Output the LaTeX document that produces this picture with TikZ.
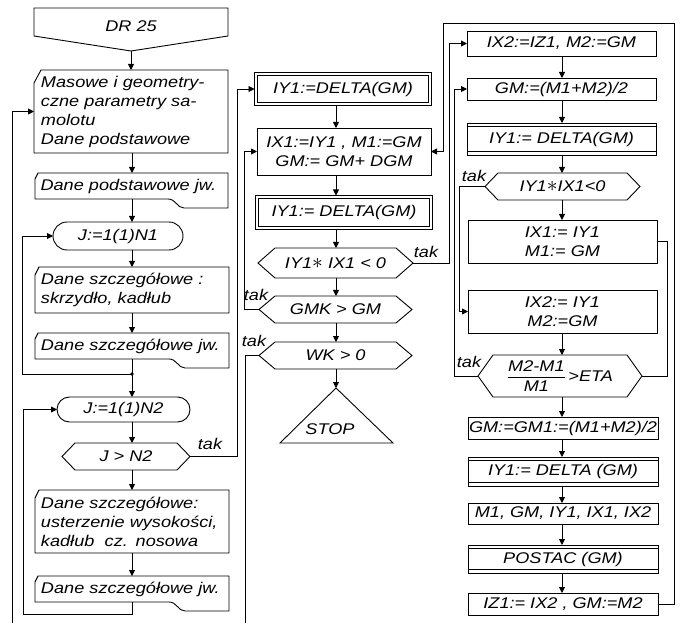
\documentclass[tikz,border=0pt]{standalone}
\usepackage{fontspec}
\usepackage{amsmath}
\setmainfont{Liberation Sans}
\newfontfamily\flowfam{Liberation Sans}[FakeStretch=1.17, ItalicFeatures={FakeStretch=1.17}]
\usetikzlibrary{arrows.meta,calc}
\newcommand\flowfont{\flowfam\itshape\fontsize{15.5}{19}\selectfont}
\newcommand\mulast{\scalebox{1.5}{$\ast$}}
\tikzset{
  lw/.style={line width=0.9pt},
  arr/.style={lw, -{Triangle[width=6pt,length=6pt]}},
  reg/.style={inner sep=0pt, outer sep=0pt, anchor=north west, font=\flowfont, align=center},
  box/.style={reg, draw, lw},
  dbox/.style={reg, draw, lw, double, double distance=2.2pt},
  lbl/.style={font=\flowfont, inner sep=0pt},
}
\newcommand\hexout[2]{\draw[lw] (#1.west) -- ($(#1.north west)+(#2,0)$) -- ($(#1.north east)+(-#2,0)$) -- (#1.east) -- ($(#1.south east)+(-#2,0)$) -- ($(#1.south west)+(#2,0)$) -- cycle;}
\newcommand\cutbox[3]{\draw[lw] ($(#1.north west)+(0,#3)$) -- ($(#1.north west)+(#2,0)$) -- (#1.north east) -- (#1.south east) -- (#1.south west) -- cycle;}
\newcommand\tapebox[1]{\draw[lw] ($(#1.north west)+(0,6)$) -- ($(#1.north west)+(3,0)$) -- (#1.north east) -- ($(#1.south east)+(0,9)$) -- ($(#1.south east)+(-44,9)$) .. controls ($(#1.south east)+(-51,9)$) and ($(#1.south east)+(-52,0)$) .. ($(#1.south east)+(-60,0)$) -- (#1.south west) -- cycle;}
\newcommand\tbd[1]{\draw[lw] ($(#1.north west)+(0,3.5)$) -- ($(#1.north east)+(0,3.5)$); \draw[lw] ($(#1.south west)+(0,-3.5)$) -- ($(#1.south east)+(0,-3.5)$);}
\begin{document}
\begin{tikzpicture}[x=1pt,y=-1pt]
\fill[white] (0,0) rectangle (681,623);
\useasboundingbox (0,0) rectangle (681,623);
% spines
\coordinate (L) at (132,0);
\coordinate (M) at (336,0);
\coordinate (R) at (562,0);
% ---------------- left column
\node[reg, minimum width=194pt, minimum height=36pt] (dr) at (34,8) {DR 25};
\draw[lw] (dr.north west) -- (dr.north east) -- ($(dr.south east)+(0,-8)$) -- ($(dr.south)+(0,7)$) -- ($(dr.south west)+(0,-8)$) -- cycle;
\coordinate (drtip) at ($(dr.south)+(0,7)$);
\node[reg, minimum width=194pt, minimum height=83pt, text width=180pt, align=left] (mas) at (34,70)
  {Masowe i geometry-\\czne parametry sa-\\molotu\\Dane podstawowe};
\cutbox{mas}{7}{13}
\node[reg, minimum width=193pt, minimum height=26pt, text width=182pt, align=left] (dpj) at (35,173) {Dane podstawowe jw.};
\tapebox{dpj}
\node[box, rounded corners=14pt, minimum width=130pt, minimum height=28pt] (jn1) at (53,222) {J:=1(1)N1};
\node[reg, minimum width=194pt, minimum height=46pt, text width=182pt, align=left] (dsk) at (35,267)
  {Dane szczegółowe :\\skrzydło, kadłub};
\cutbox{dsk}{4}{8}
\node[reg, minimum width=194pt, minimum height=26pt, text width=182pt, align=left] (dsj1) at (35,333) {Dane szczegółowe jw.};
\tapebox{dsj1}
\coordinate (J1) at (132,374);
\node[box, rounded corners=12.5pt, minimum width=133pt, minimum height=25pt] (jn2) at (57,397) {J:=1(1)N2};
\node[reg, minimum width=128pt, minimum height=27pt] (jgt) at (62,443) {J > N2};
\hexout{jgt}{13}
\node[reg, minimum width=194pt, minimum height=63pt, text width=182pt, align=left] (dsu) at (35,490)
  {Dane szczegółowe:\\usterzenie wysokości,\\kadłub~~cz. nosowa};
\cutbox{dsu}{4}{8}
\node[reg, minimum width=194pt, minimum height=26pt, text width=182pt, align=left] (dsj2) at (35,576) {Dane szczegółowe jw.};
\tapebox{dsj2}
% ---------------- middle column
\node[dbox, minimum width=174pt, minimum height=30pt] (dy1) at (256,74) {IY1:=DELTA(GM)};
\node[box, minimum width=174pt, minimum height=47pt] (ix1) at (257,128) {IX1:=IY1 , M1:=GM\\GM:= GM+ DGM};
\node[dbox, minimum width=174pt, minimum height=31pt] (dy2) at (257,197) {IY1:= DELTA(GM)};
\node[reg, minimum width=155pt, minimum height=30pt] (h1) at (258,248) {IY1\mulast\ IX1 < 0};
\hexout{h1}{17}
\node[reg, minimum width=153pt, minimum height=27pt] (h2) at (259,296) {GMK > GM};
\hexout{h2}{16}
\node[reg, minimum width=153pt, minimum height=27pt] (h3) at (259,342) {WK > 0};
\hexout{h3}{16}
\coordinate (stA) at (336,388);
\node[lbl] (stop) at (330,429) {STOP};
\draw[lw] (stA) -- ($(stA)+(57,55)$) -- ($(stA)+(-56,55)$) -- cycle;
% ---------------- right column
\node[box, minimum width=189pt, minimum height=25pt] (r1) at (467,31) {IX2:=IZ1, M2:=GM};
\node[box, minimum width=189pt, minimum height=22pt] (r2) at (467,78) {GM:=(M1+M2)/2};
\node[box, minimum width=189pt, minimum height=32pt] (r3) at (467,123) {IY1:= DELTA(GM)};
\tbd{r3}
\node[reg, minimum width=155pt, minimum height=27pt] (rh1) at (485,173) {IY1\mulast IX1<0};
\hexout{rh1}{13}
\node[box, minimum width=189pt, minimum height=43pt] (r4) at (468,220) {IX1:= IY1\\M1:= GM};
\node[box, minimum width=189pt, minimum height=43pt] (r5) at (468,290) {IX2:= IY1\\M2:=GM};
\node[reg, minimum width=164pt, minimum height=42pt] (rh2) at (478,355) {$\dfrac{\text{M2-M1}}{\text{M1}}$\,>ETA};
\hexout{rh2}{15}
\node[box, minimum width=190pt, minimum height=22pt] (r6) at (468,417) {GM:=GM1:=(M1+M2)/2};
\node[box, minimum width=190pt, minimum height=29pt] (r7) at (468,457) {IY1:= DELTA (GM)};
\tbd{r7}
\node[box, minimum width=190pt, minimum height=21pt] (r8) at (468,503) {M1, GM, IY1, IX1, IX2};
\node[box, minimum width=190pt, minimum height=28pt] (r9) at (468,545) {POSTAC (GM)};
\tbd{r9}
\node[box, minimum width=190pt, minimum height=22pt] (r10) at (468,593) {IZ1:= IX2 , GM:=M2};
% ---------------- tak labels
\node[lbl] (t1) at (210,444) {tak};
\node[lbl] (t2) at (426,252) {tak};
\node[lbl] (t3) at (256,295) {tak};
\node[lbl] (t4) at (254,341) {tak};
\node[lbl] (t5) at (474,176) {tak};
\node[lbl] (t6) at (469,362) {tak};
% ---------------- connectors left
\draw[arr] (drtip) -- (drtip |- mas.north);
\draw[arr] (mas.south -| L) -- (dpj.north -| L);
\draw[arr] (dpj.south -| L) -- (jn1.north -| L);
\draw[arr] (jn1.south -| L) -- (dsk.north -| L);
\draw[arr] (dsk.south -| L) -- (dsj1.north -| L);
\draw[lw] (dsj1.south -| L) -- (J1);
\draw[arr] (J1) -- (jn2.north -| L);
\coordinate (lp1) at (22,0);
\draw[arr] (J1) -- (J1 -| lp1) |- (jn1.west);
\fill (J1) circle (1.8pt);
\draw[arr] (jn2.south -| L) -- (jgt.north -| L);
\draw[arr] (jgt.south -| L) -- (dsu.north -| L);
\draw[arr] (dsu.south -| L) -- (dsj2.north -| L);
\coordinate (lp2) at (23,614);
\draw[arr] (dsj2.south -| L) |- (lp2) |- (jn2.west);
\coordinate (inA) at (12,623);
\draw[arr] (inA) |- (mas.west);
\coordinate (cx1) at (237,0);
\draw[arr, shorten >=1.5pt] (jgt.east) -| (cx1 |- dy1.west) -- (dy1.west);
% ---------------- connectors middle
\draw[arr, shorten <=1.5pt] (dy1.south -| M) -- (ix1.north -| M);
\draw[arr, shorten >=1.5pt] (ix1.south -| M) -- (dy2.north -| M);
\draw[arr, shorten <=1.5pt] (dy2.south -| M) -- (h1.north -| M);
\draw[arr] (h1.south -| M) -- (h2.north -| M);
\draw[arr] (h2.south -| M) -- (h3.north -| M);
\draw[arr] (h3.south -| M) -- (stA);
\coordinate (cx2) at (449,0);
\draw[arr] (h1.east) -| (cx2 |- r1.west) -- (r1.west);
\coordinate (cx3) at (244,0);
\draw[arr] (h2.west) -| (cx3 |- ix1.west) -- (ix1.west);
\coordinate (outB) at (245,623);
\draw[lw] (h3.west) -| (outB);
\coordinate (cx4) at (674,23);
\coordinate (cx5) at (443,0);
\draw[arr] (r10.east) -| (cx4) -| (cx5 |- ix1.east) -- (ix1.east);
% ---------------- connectors right
\draw[arr] (r1.south -| R) -- (r2.north -| R);
\draw[arr] (r2.south -| R) -- (r3.north -| R);
\draw[arr] (r3.south -| R) -- (rh1.north -| R);
\draw[arr] (rh1.south -| R) -- (r4.north -| R);
\draw[arr] (r5.south -| R) -- (rh2.north -| R);
\draw[arr] (rh2.south -| R) -- (r6.north -| R);
\draw[arr] (r6.south -| R) -- (r7.north -| R);
\draw[arr] (r7.south -| R) -- (r8.north -| R);
\draw[arr] (r8.south -| R) -- (r9.north -| R);
\draw[arr] (r9.south -| R) -- (r10.north -| R);
\coordinate (cx6) at (459,0);
\draw[arr] (rh1.west) -| (cx6 |- r5.west) -- (r5.west);
\coordinate (cx7) at (454,0);
\draw[arr] (rh2.west) -| (cx7 |- r2.west) -- (r2.west);
\coordinate (cx8) at (667,0);
\draw[lw] (r4.east) -| (cx8 |- rh2.east) -- (rh2.east);
\end{tikzpicture}
\end{document}
